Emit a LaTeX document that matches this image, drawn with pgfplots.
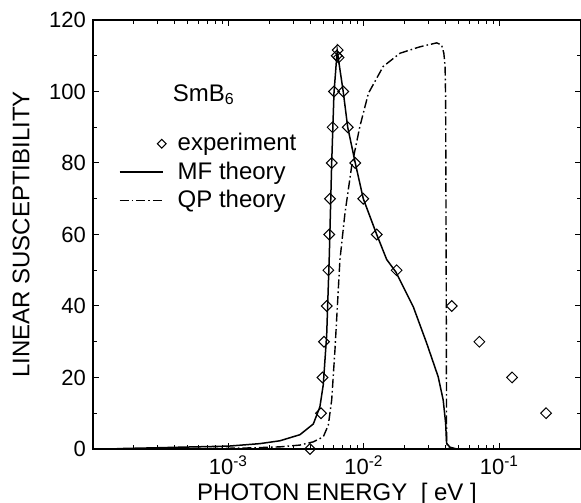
\documentclass[border=0pt]{standalone}
\usepackage{fontspec}
\setmainfont{Liberation Sans}
\usepackage{pgfplots}
\pgfplotsset{compat=1.18}
\pgfplotsset{
    markleg/.style={legend image code/.code={\path[draw=none] (0cm,-3pt) rectangle (0.95cm,3pt);
        \draw[black, solid, line width=0.5pt, mark=square, mark size=1.55pt, mark options={rotate=45}] plot[only marks] coordinates {(0.74cm,0cm)};}},
    lineleg/.style={legend image code/.code={\path[draw=none] (0cm,-3pt) rectangle (0.95cm,3pt);
        \draw[##1] (0cm,0cm) -- (0.76cm,0cm);}},
}

\begin{document}
\begin{tikzpicture}
\begin{axis}[
    name=ax,
    scale only axis,
    width=244pt, height=214.5pt,
    xmode=log,
    xmin=1e-4, xmax=0.4,
    ymin=0, ymax=120,
    ytick={0,20,...,120},
    minor y tick num=1,
    xtick={1e-4,1e-3,1e-2,1e-1},
    xticklabels={{},10\textsuperscript{-3},10\textsuperscript{-2},10\textsuperscript{-1}},
    tick align=inside,
    major tick length=3pt, minor tick length=1.8pt,
    tick style={black, line width=0.5pt},
    axis line style={line width=0.7pt},
    ticklabel style={font=\fontsize{11}{13}\selectfont},
    /pgf/number format/assume math mode=true,
    label style={font=\fontsize{12}{14}\selectfont},
    xlabel={PHOTON ENERGY \ [ eV ]},
    ylabel={LINEAR SUSCEPTIBILITY},
    xlabel shift=-3pt,
    ylabel shift=3pt,
    clip=false,
    legend style={draw=none, fill=none, at={(0.04,0.755)}, anchor=north west,
        font=\fontsize{12}{14}\selectfont, row sep=0pt},
    legend cell align=left,
]
% experiment
\addplot[only marks, mark=square, mark size=1.9pt, mark options={rotate=45, line width=0.5pt}, markleg]
    coordinates {
    (4.0e-3,0) (4.82e-3,10) (4.95e-3,20) (5.07e-3,30) (5.31e-3,40) (5.46e-3,50)
    (5.55e-3,60) (5.61e-3,70) (5.78e-3,80) (5.87e-3,90) (6.01e-3,100) (6.30e-3,110)
    (6.40e-3,111.6) (6.50e-3,109.5) (7.03e-3,100) (7.59e-3,90) (8.63e-3,80) (9.89e-3,70)
    (1.242e-2,60) (1.742e-2,50) (4.45e-2,40) (7.11e-2,30) (0.124,20) (0.221,10)
};
% MF theory
\addplot[black, line width=0.75pt, mark=none, lineleg]
    coordinates {
    (1.5e-4,0.1) (2.64e-4,0.3) (4.39e-4,0.5) (1.0e-3,0.8) (1.706e-3,1.5) (2.4e-3,2.3)
    (3.37e-3,4) (4.23e-3,7) (4.73e-3,11.8) (5.01e-3,18) (5.31e-3,32) (5.55e-3,54)
    (5.78e-3,80) (6.01e-3,99.6) (6.35e-3,111.5) (6.6e-3,107) (7.03e-3,100) (7.59e-3,90)
    (8.63e-3,80) (9.89e-3,70) (1.242e-2,60) (1.472e-2,53) (1.722e-2,49.5) (2.312e-2,39.8)
    (2.904e-2,29.6) (3.532e-2,20.2) (3.846e-2,13.7) (4.009e-2,7.2) (4.074e-2,1.6)
    (4.315e-2,0.5) (4.831e-2,0) (0.4,0)
};
% QP theory
\addplot[black, line width=0.7pt, mark=none,
    dash pattern=on 4.5pt off 1.5pt on 0.8pt off 1.5pt, lineleg]
    coordinates {
    (1e-4,0) (6.17e-4,0.1) (1.44e-3,0.3) (2.4e-3,0.6) (3.37e-3,1.1) (4.23e-3,2)
    (5.01e-3,3.4) (5.46e-3,6.7) (5.78e-3,13.7) (6.11e-3,27.7) (6.65e-3,52.9)
    (7.24e-3,65.9) (8.11e-3,79) (9.33e-3,90.2) (1.079e-2,99.5) (1.387e-2,107)
    (1.845e-2,110.7) (2.588e-2,112.5) (3.443e-2,113.6) (3.741e-2,113) (3.89e-2,110.7)
    (3.972e-2,107) (4.009e-2,97.6) (4.046e-2,50) (4.074e-2,2) (4.188e-2,0.2)
    (4.7e-2,0) (0.4,0)
};
\legend{experiment, MF theory, QP theory}
\node[anchor=base west, inner sep=0pt, font=\fontsize{12}{14}\selectfont] at (rel axis cs:0.163,0.8105) {SmB\textsubscript{6}};
\end{axis}
\pgfresetboundingbox
\path ([xshift=-46.5pt,yshift=-27pt]ax.south west) rectangle ([yshift=10pt]ax.north east);
\end{tikzpicture}
\end{document}
